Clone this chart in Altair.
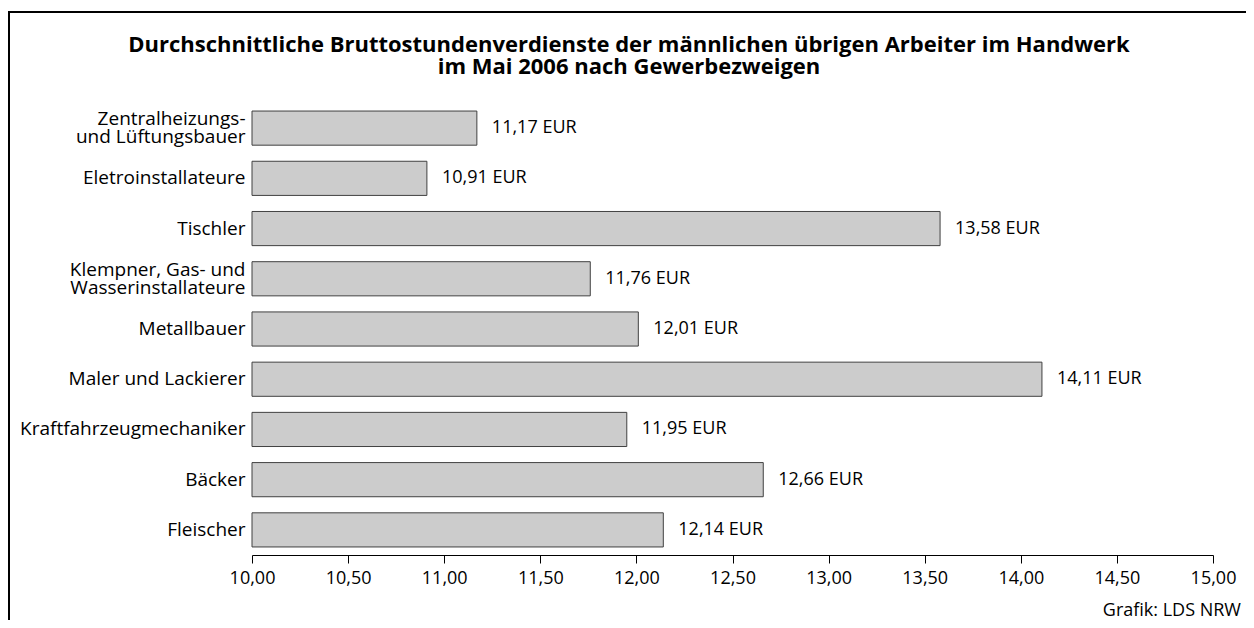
import altair as alt
import pandas as pd

categories = [
    "Zentralheizungs-|und Lüftungsbauer",
    "Eletroinstallateure",
    "Tischler",
    "Klempner, Gas- und|Wasserinstallateure",
    "Metallbauer",
    "Maler und Lackierer",
    "Kraftfahrzeugmechaniker",
    "Bäcker",
    "Fleischer",
]
values = [11.17, 10.91, 13.58, 11.76, 12.01, 14.11, 11.95, 12.66, 12.14]
x_ticks = [10.0, 10.5, 11.0, 11.5, 12.0, 12.5, 13.0, 13.5, 14.0, 14.5, 15.0]
title_lines = [
    "Durchschnittliche Bruttostundenverdienste der männlichen übrigen Arbeiter im Handwerk",
    "im Mai 2006 nach Gewerbezweigen",
]
source_text = "Grafik: LDS NRW"

FONT = "Open Sans"
W, H = 961, 452
FS = 18

df = pd.DataFrame({
    "cat": categories,
    "value": values,
    "base": [10.0] * len(values),
    "label": [f"{v:.2f}".replace(".", ",") + " EUR" for v in values],
})

xscale = alt.Scale(domain=[10, 15], zero=False, nice=False)
yscale = alt.Scale(domain=categories, paddingInner=0.32, paddingOuter=0.16)

base = alt.Chart(df)

bars = base.mark_bar(fill="#cccccc", stroke="#404040", strokeWidth=1).encode(
    x=alt.X("base:Q", scale=xscale, axis=alt.Axis(
        values=x_ticks, title=None, grid=False,
        labelExpr="replace(format(datum.value, '.2f'), '.', ',')",
        labelFont=FONT, labelFontSize=FS, labelColor="black", labelPadding=6,
        tickSize=8, tickColor="black", domainColor="black", labelFlush=False,
    )),
    x2="value:Q",
    y=alt.Y("cat:N", scale=yscale, sort=categories, axis=alt.Axis(
        title=None, ticks=False, domain=False, labelPadding=7, labelLimit=400,
        labelExpr="split(datum.label, '|')",
        labelOffset={"condition": {"test": "indexof(datum.label, '|') >= 0", "value": -9}, "value": 0},
        labelFont=FONT, labelFontSize=19, labelColor="black", labelLineHeight=18,
    )),
)

texts = base.mark_text(align="left", baseline="middle", dx=15, font=FONT,
                       fontSize=FS, color="black").encode(
    x=alt.X("value:Q", scale=xscale),
    y=alt.Y("cat:N", scale=yscale, sort=categories),
    text="label:N",
)

one = pd.DataFrame({"t": [source_text]})
source = alt.Chart(one).mark_text(align="right", baseline="middle", font=FONT,
                                  fontSize=FS, color="black").encode(
    x=alt.value(W + 28), y=alt.value(H + 56), text="t:N")

tdf = pd.DataFrame({"t1": [title_lines[0]], "t2": [title_lines[1]]})
title1 = alt.Chart(tdf).mark_text(align="center", baseline="middle", font=FONT,
                                  fontSize=22, fontWeight="bold", color="black").encode(
    x=alt.value(377), y=alt.value(-58), text="t1:N")
title2 = alt.Chart(tdf).mark_text(align="center", baseline="middle", font=FONT,
                                  fontSize=22, fontWeight="bold", color="black").encode(
    x=alt.value(377), y=alt.value(-36), text="t2:N")

frame_left = alt.Chart(one).mark_rule(color="black", strokeWidth=2).encode(
    x=alt.value(-243), y=alt.value(-91), y2=alt.value(H + 80))
frame_top = alt.Chart(one).mark_rule(color="black", strokeWidth=2).encode(
    x=alt.value(-244), x2=alt.value(W + 40), y=alt.value(-91))

chart = alt.layer(frame_left, frame_top, bars, texts, source, title1, title2).properties(
    width=W, height=H,
    autosize=alt.AutoSizeParams(type="none"),
    padding={"left": 244, "top": 95, "right": 33, "bottom": 65},
).configure_view(stroke=None)

chart.save("out.html", embed_options={"renderer": "svg", "actions": False})
